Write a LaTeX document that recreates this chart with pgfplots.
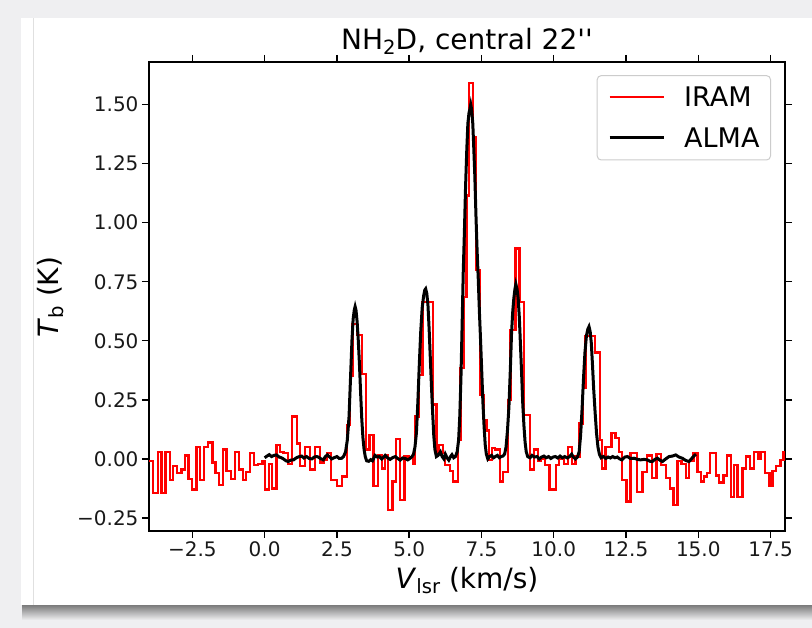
\documentclass[border=0pt]{standalone}
\usepackage{fontspec}
\setmainfont{DejaVu Sans}
\newfontfamily\nolig{DejaVu Sans}
\usepackage{pgfplots}
\pgfplotsset{compat=1.18}
\definecolor{bgc}{RGB}{239,239,241}
\begin{document}
\begin{tikzpicture}[x=1pt,y=1pt]
\fill[bgc] (0,0) rectangle (812,628);
\shade[top color=black!55, bottom color=bgc] (22,8) rectangle (812,24);
\fill[white] (21,23) rectangle (812,610);
\draw[black!12, line width=0.8pt] (33,23) -- (33,610);
\begin{axis}[
  at={(149pt,97pt)}, anchor=south west,
  width=636pt, height=469pt, scale only axis,
  xmin=-4, xmax=18, ymin=-0.305, ymax=1.68,
  axis line style={line width=1.4pt, black},
  tick align=outside, major tick length=7pt,
  tick style={line width=1.4pt, black},
  xtick={-2.5,0,2.5,5,7.5,10,12.5,15,17.5},
  xticklabels={−2.5,0.0,2.5,5.0,7.5,10.0,12.5,15.0,17.5},
  ytick={-0.25,0,0.25,0.5,0.75,1,1.25,1.5},
  yticklabels={−0.25,0.00,0.25,0.50,0.75,1.00,1.25,1.50},
  ticklabel style={font=\fontsize{20}{24}\selectfont, text=black!90},
  legend style={at={(0.978,0.972)}, anchor=north east, draw=black!20,
    rounded corners=4pt, line width=1pt, fill=white,
    font=\fontsize{27}{27}\selectfont, inner xsep=11pt, inner ysep=11pt,
    row sep=20pt, column sep=19pt, nodes={inner sep=0pt, anchor=base west}},
  legend cell align=left,
  legend image code/.code={\draw[#1] (0pt,9.5pt) -- (54pt,9.5pt);},
]
\addplot[red, line width=2.3pt, const plot] coordinates {
(-4.00,-0.01) (-3.86,-0.145) (-3.69,0.03) (-3.57,-0.145) (-3.43,0.03)
(-3.28,-0.09) (-3.17,-0.03) (-3.03,-0.06) (-2.88,-0.045) (-2.76,0.015)
(-2.63,-0.085) (-2.51,-0.13) (-2.36,0.05) (-2.24,-0.09) (-2.09,0.05)
(-1.95,0.07) (-1.80,-0.015) (-1.70,-0.06) (-1.59,-0.11) (-1.43,0.04)
(-1.32,-0.05) (-1.17,-0.085) (-1.03,0.03) (-0.89,-0.045) (-0.76,-0.09)
(-0.65,-0.055) (-0.51,0.025) (-0.37,-0.025) (-0.22,-0.02) (-0.07,-0.01)
(0.02,-0.13) (0.14,-0.02) (0.26,-0.125) (0.41,0.06) (0.53,0.03)
(0.65,0.025) (0.82,-0.02) (0.94,0.18) (1.11,0.065) (1.22,-0.03)
(1.40,0.05) (1.57,-0.045) (1.74,0.05) (1.92,-0.015) (2.05,-0.005)
(2.16,0.025) (2.29,-0.09) (2.50,-0.115) (2.67,-0.075) (2.84,0.145)
(2.96,0.35) (3.04,0.57) (3.19,0.525) (3.36,0.36) (3.50,0.04)
(3.63,0.10) (3.77,-0.115) (3.92,0.015) (4.05,-0.04) (4.17,0.015)
(4.26,-0.215) (4.42,-0.095) (4.54,0.085) (4.69,-0.175) (4.84,0.01)
(5.00,0.005) (5.12,-0.02) (5.21,0.18) (5.35,0.355) (5.46,0.665)
(5.82,0.23) (5.94,0.02) (6.02,0.06) (6.17,0.025) (6.25,-0.025)
(6.42,-0.05) (6.52,-0.095) (6.68,0.08) (6.77,0.385) (6.89,0.685)
(6.98,1.115) (7.06,1.59) (7.21,1.36) (7.31,0.80) (7.46,0.27)
(7.58,0.165) (7.67,0.12) (7.75,-0.005) (7.87,0.045) (7.98,0.04)
(8.13,-0.095) (8.25,-0.055) (8.41,0.25) (8.50,0.545) (8.68,0.89)
(8.82,0.665) (8.97,0.185) (9.19,-0.045) (9.31,0.04) (9.46,-0.01)
(9.57,0.0) (9.71,-0.025) (9.85,-0.13) (10.08,-0.025) (10.18,0.0)
(10.35,-0.02) (10.50,0.05) (10.64,-0.02) (10.75,0.01) (10.89,0.15)
(11.01,0.30) (11.10,0.52) (11.42,0.45) (11.59,0.08) (11.68,-0.04)
(11.79,0.05) (12.00,0.11) (12.14,0.09) (12.26,0.03) (12.37,-0.09)
(12.52,-0.18) (12.66,0.025) (12.89,-0.14) (13.07,-0.055) (13.22,0.015)
(13.41,-0.08) (13.56,0.02) (13.70,-0.025) (13.88,-0.08) (14.03,-0.125)
(14.14,-0.195) (14.28,-0.01) (14.42,-0.02) (14.57,-0.08) (14.68,-0.01)
(14.83,0.025) (14.97,-0.055) (15.09,-0.095) (15.20,-0.075) (15.30,-0.06)
(15.41,0.025) (15.61,-0.07) (15.72,-0.10) (15.87,-0.07) (15.99,0.015)
(16.13,-0.16) (16.24,-0.025) (16.36,-0.16) (16.53,-0.04) (16.65,0.01)
(16.80,-0.04) (16.92,0.03) (17.08,0.0) (17.17,0.03) (17.31,-0.06)
(17.46,-0.115) (17.57,-0.05) (17.69,-0.03) (17.84,-0.005) (17.95,0.03)
(18.0,0.03)
};
\addlegendentry{IRAM}
\addplot[black, line width=3pt] coordinates {
(0.00,0.005) (0.08,0.012) (0.16,0.018) (0.24,0.010) (0.32,0.015) (0.41,0.017)
(0.50,0.008) (0.58,0.005) (0.65,0.000) (0.74,-0.008) (0.82,-0.011) (0.90,-0.005)
(1.00,-0.004) (1.10,0.005) (1.20,0.010) (1.28,0.012) (1.36,0.004) (1.45,0.010)
(1.54,0.002) (1.63,0.000) (1.72,0.008) (1.80,0.010) (1.86,0.008) (1.95,0.000)
(2.03,-0.004) (2.10,0.010) (2.17,0.017) (2.25,0.008) (2.32,0.000) (2.40,0.005)
(2.50,0.010) (2.58,0.002) (2.67,0.003) (2.73,0.010) (2.80,0.030) (2.86,0.080)
(2.92,0.180) (2.97,0.340) (3.02,0.500) (3.06,0.590) (3.10,0.630) (3.13,0.645)
(3.16,0.630) (3.20,0.580) (3.24,0.500) (3.28,0.400) (3.32,0.280) (3.36,0.170)
(3.40,0.090) (3.44,0.040) (3.48,0.010) (3.53,-0.008) (3.60,-0.010) (3.67,-0.003)
(3.73,-0.008) (3.82,0.015) (3.90,0.008) (3.97,0.010) (4.05,0.000) (4.12,0.008)
(4.17,0.015) (4.25,0.005) (4.34,-0.002) (4.42,0.005) (4.52,0.010) (4.60,0.002)
(4.69,-0.005) (4.77,0.004) (4.86,0.002) (4.95,-0.004) (5.04,0.003) (5.10,0.010)
(5.15,0.020) (5.20,0.050) (5.25,0.110) (5.30,0.240) (5.35,0.400) (5.40,0.540)
(5.45,0.640) (5.50,0.690) (5.54,0.715) (5.57,0.720) (5.61,0.700) (5.65,0.650)
(5.69,0.550) (5.73,0.430) (5.77,0.310) (5.81,0.200) (5.85,0.100) (5.89,0.040)
(5.94,0.010) (6.00,0.015) (6.08,0.030) (6.14,0.010) (6.20,0.000) (6.25,0.020)
(6.31,0.005) (6.37,-0.005) (6.43,0.010) (6.48,0.018) (6.54,0.005) (6.60,0.010)
(6.66,0.030) (6.71,0.080) (6.75,0.180) (6.79,0.340) (6.83,0.560) (6.87,0.790)
(6.91,0.960) (6.95,1.150) (6.99,1.300) (7.03,1.420) (7.07,1.465) (7.10,1.480)
(7.13,1.500) (7.16,1.480) (7.20,1.420) (7.23,1.330) (7.27,1.200) (7.31,1.030)
(7.35,0.880) (7.39,0.760) (7.43,0.620) (7.47,0.500) (7.51,0.370) (7.55,0.240)
(7.59,0.140) (7.63,0.060) (7.67,0.020) (7.72,0.000) (7.78,0.010) (7.85,0.015)
(7.92,0.005) (7.98,0.010) (8.05,0.015) (8.12,0.005) (8.18,0.010) (8.24,0.012)
(8.30,0.020) (8.35,0.050) (8.40,0.120) (8.45,0.220) (8.50,0.380) (8.54,0.530)
(8.58,0.620) (8.62,0.680) (8.66,0.720) (8.69,0.740) (8.73,0.720) (8.77,0.680)
(8.81,0.600) (8.85,0.480) (8.89,0.360) (8.93,0.230) (8.97,0.140) (9.01,0.070)
(9.05,0.030) (9.10,0.010) (9.18,0.005) (9.25,0.015) (9.33,0.008) (9.42,0.010)
(9.50,0.000) (9.58,0.008) (9.66,0.012) (9.74,0.005) (9.82,0.010) (9.90,0.002)
(9.98,0.008) (10.06,0.010) (10.14,0.004) (10.22,0.012) (10.30,0.005) (10.38,0.010)
(10.47,0.004) (10.55,0.010) (10.62,0.020) (10.68,0.008) (10.75,0.000) (10.82,0.008)
(10.88,0.030) (10.93,0.100) (10.98,0.210) (11.03,0.340) (11.08,0.450) (11.13,0.520)
(11.18,0.550) (11.22,0.560) (11.26,0.540) (11.30,0.490) (11.34,0.400) (11.38,0.300)
(11.43,0.200) (11.48,0.110) (11.53,0.050) (11.58,0.020) (11.64,0.005) (11.72,0.010)
(11.80,0.002) (11.88,0.008) (11.96,0.004) (12.04,0.010) (12.12,0.005) (12.20,0.008)
(12.28,0.000) (12.36,-0.004) (12.46,0.008) (12.55,0.010) (12.65,0.002) (12.78,0.003)
(12.90,-0.002) (13.00,-0.004) (13.12,-0.002) (13.24,-0.004) (13.33,-0.010) (13.41,-0.011)
(13.50,-0.002) (13.59,0.003) (13.68,-0.006) (13.76,-0.011) (13.85,-0.002) (13.99,0.010)
(14.10,0.012) (14.22,0.017) (14.33,0.008) (14.45,0.003) (14.56,-0.006) (14.68,-0.011)
(14.76,0.000) (14.83,0.010) (14.92,0.020)
};
\addlegendentry{ALMA}
\end{axis}
\node[anchor=base, font=\fontsize{28}{30}\selectfont] at (467,578)
  {NH\raisebox{-5pt}{\fontsize{19.6}{20}\selectfont 2}D, central 22{\nolig''}};
\node[anchor=base, font=\fontsize{28}{30}\selectfont] at (467,39)
  {\textit{V}\raisebox{-5pt}{\fontsize{19.6}{20}\selectfont lsr} (km/s)};
\node[anchor=base, rotate=90, font=\fontsize{28}{30}\selectfont] at (58,331)
  {\textit{T}\raisebox{-5pt}{\fontsize{19.6}{20}\selectfont b} (K)};
\end{tikzpicture}
\end{document}
